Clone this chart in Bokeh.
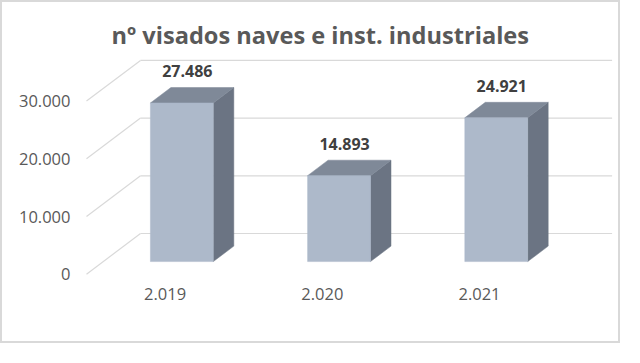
from bokeh.plotting import figure
from bokeh.models import Range1d, FixedTicker
from bokeh.core.properties import value
from bokeh.embed import file_html
from bokeh.resources import INLINE

# ---------------- data ----------------
categories = ["2.019", "2.020", "2.021"]
values = [27486, 14893, 24921]
value_labels = ["27.486", "14.893", "24.921"]
y_ticks = [0, 10000, 20000, 30000]
y_tick_labels = ["0", "10.000", "20.000", "30.000"]
title_text = "nº visados naves e inst. industriales"

# ---------------- geometry (picture pixels) ----------------
W, H = 620, 343
BORDER = 2
PAGE0 = BORDER
FRAME_L, FRAME_R, FRAME_T, FRAME_B = 80, PAGE0 + W, 52, 282
X0_PX = 164.6          # x of first category (front plane)
CAT_PX = 157.2         # pixels per category
Y0_PX = 273.7          # y of value 0 (front plane)
VAL_PX = 57.7 / 10000  # pixels per unit value
DEPTH_DX_PX = 54.0
DEPTH_DY_PX = 40.7

x_start = (FRAME_L - X0_PX) / CAT_PX
x_end = (FRAME_R - X0_PX) / CAT_PX
y_start = (Y0_PX - FRAME_B) / VAL_PX
y_end = (Y0_PX - FRAME_T) / VAL_PX

DX = DEPTH_DX_PX / CAT_PX   # depth offset in x data units
DY = DEPTH_DY_PX / VAL_PX   # depth offset in y data units
F0 = 0.31                   # bar front position in depth
BD = 0.38                   # bar depth fraction
BW = 0.40                   # bar width (category units)

FRONT = "#ADB9CA"
TOP = "#7F8998"
SIDE = "#6B7483"
GRID = "#D9D9D9"
TXT = "#595959"
FONT = "Open Sans"

p = figure(width=W, height=H, output_backend="svg", toolbar_location=None,
           x_range=Range1d(x_start, x_end), y_range=Range1d(y_start, y_end),
           min_border_left=FRAME_L - PAGE0, min_border_right=PAGE0 + W - FRAME_R,
           min_border_top=FRAME_T - PAGE0, min_border_bottom=PAGE0 + H - FRAME_B,
           background_fill_color="white", border_fill_color="white")
p.outline_line_color = None
p.grid.visible = False
p.styles = {"border": f"{BORDER}px solid #D9D9D9"}

# title
p.title.text = title_text
p.title.align = "left"
p.title.offset = 31
p.title.text_font = FONT
p.title.text_font_size = "23.6px"
p.title.text_font_style = "bold"
p.title.text_color = TXT
p.title.standoff = 4

# gridlines: side wall diagonals and back wall horizontals
n = len(y_ticks)
p.segment(x0=[-0.5] * n, y0=y_ticks, x1=[-0.5 + DX] * n, y1=[t + DY for t in y_ticks],
          line_color=GRID, line_width=1.2)
p.segment(x0=[-0.5 + DX] * n, y0=[t + DY for t in y_ticks],
          x1=[len(categories) - 0.5 + DX] * n, y1=[t + DY for t in y_ticks],
          line_color=GRID, line_width=1.2)

# 3D bars
front_xs, front_ys, side_xs, side_ys, top_xs, top_ys = [], [], [], [], [], []
lab_x, lab_y = [], []
for i, v in enumerate(values):
    cx = i + F0 * DX
    base = F0 * DY
    top = v + base
    l, r = cx - BW / 2, cx + BW / 2
    ddx, ddy = BD * DX, BD * DY
    front_xs.append([l, r, r, l]); front_ys.append([base, base, top, top])
    side_xs.append([r, r + ddx, r + ddx, r]); side_ys.append([base, base + ddy, top + ddy, top])
    top_xs.append([l, r, r + ddx, l + ddx]); top_ys.append([top, top, top + ddy, top + ddy])
    lab_x.append(cx + 0.035)
    lab_y.append(top + ddy)

p.patches(xs=side_xs, ys=side_ys, fill_color=SIDE, line_color=SIDE, line_width=0.5)
p.patches(xs=top_xs, ys=top_ys, fill_color=TOP, line_color=TOP, line_width=0.5)
p.patches(xs=front_xs, ys=front_ys, fill_color=FRONT, line_color=FRONT, line_width=0.5)

p.text(x=lab_x, y=lab_y, text=value_labels, text_align="center", text_baseline="middle",
       y_offset=-16.5, text_font=value(FONT), text_font_style="bold",
       text_font_size="16px", text_color="#404040")

# axes
yax = p.yaxis[0]
yax.ticker = FixedTicker(ticks=y_ticks)
yax.major_label_overrides = {t: s for t, s in zip(y_ticks, y_tick_labels)}
xax = p.xaxis[0]
xax.ticker = FixedTicker(ticks=list(range(len(categories))))
xax.major_label_overrides = {i: c for i, c in enumerate(categories)}
for ax, standoff in ((yax, 10), (xax, 5)):
    ax.axis_line_color = None
    ax.major_tick_line_color = None
    ax.minor_tick_line_color = None
    ax.major_tick_out = 0
    ax.major_tick_in = 0
    ax.major_label_standoff = standoff
    ax.major_label_text_font = FONT
    ax.major_label_text_font_size = "16.5px"
    ax.major_label_text_color = TXT

open("out.html", "w").write(file_html(p, INLINE))
